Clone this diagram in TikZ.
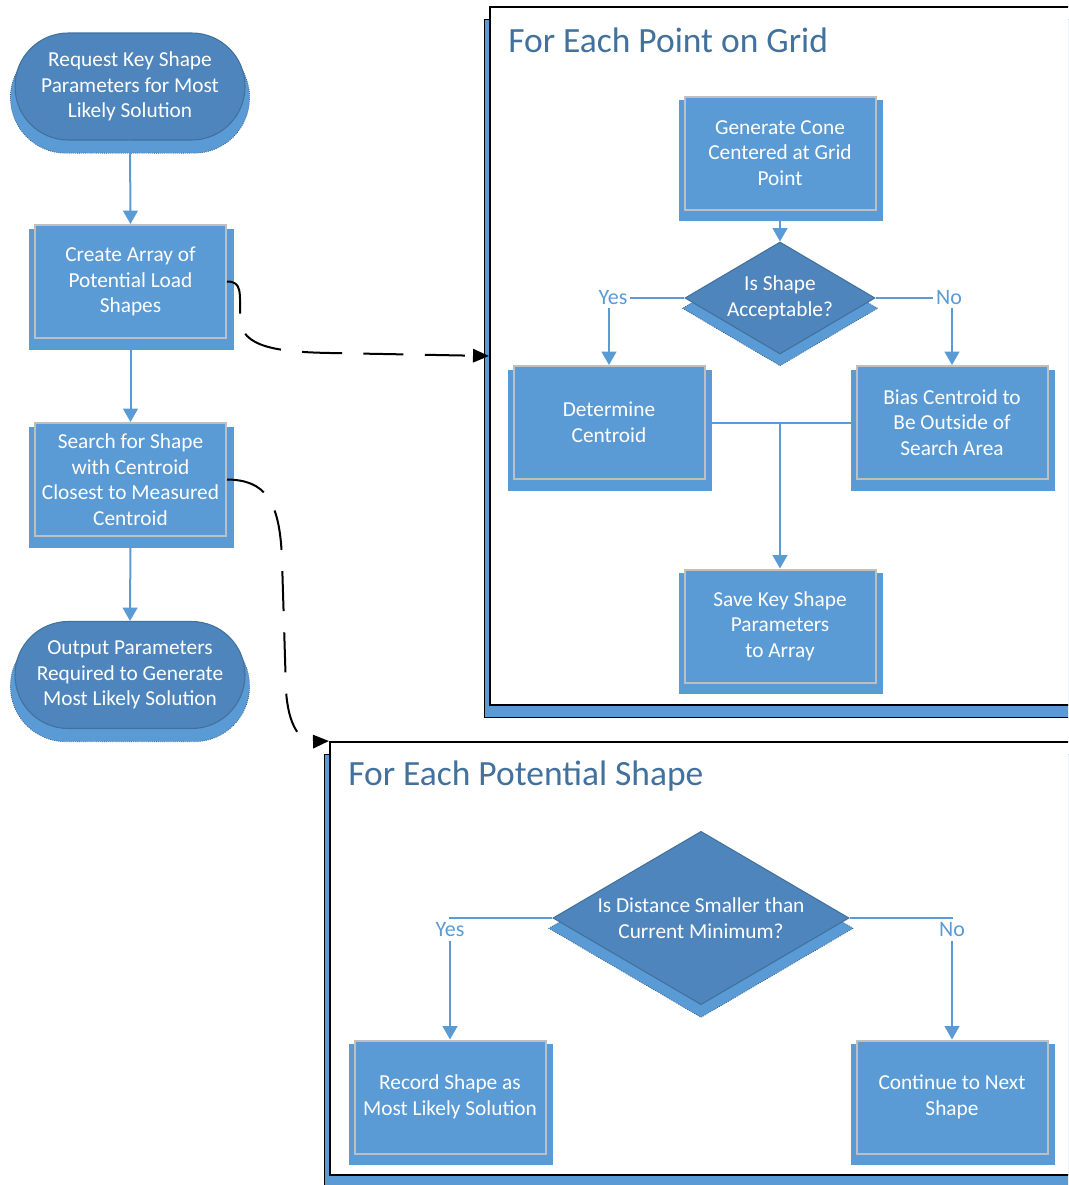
\documentclass[tikz,border=0pt]{standalone}
\usepackage{fontspec}
\setmainfont{Carlito}
\usetikzlibrary{shapes.geometric,shadows,arrows.meta}
\definecolor{lblue}{HTML}{5B9BD5}
\definecolor{dblue}{HTML}{4E85BD}
\definecolor{eblue}{HTML}{41719C}
\definecolor{gborder}{HTML}{BFBFBF}
\begin{document}
\begin{tikzpicture}[x=0.75pt,y=-0.75pt,
  txt/.style={font=\fontsize{16}{19.2}\selectfont, text=white, align=center},
  procbox/.style={txt, rectangle, fill=lblue, draw=gborder, line width=1.5pt,
    minimum width=143.25pt, minimum height=84.75pt, inner sep=0pt,
    general shadow={fill=lblue, shadow scale=1.07, shadow xshift=0.75pt, shadow yshift=-5.5pt}},
  term/.style={txt, rectangle, rounded corners=40pt, fill=dblue, draw=eblue, line width=0.8pt,
    minimum width=172.5pt, minimum height=80.25pt, inner sep=0pt,
    general shadow={fill=lblue, draw=eblue!70!black, line width=0.5pt, densely dotted, shadow scale=1.04, shadow yshift=-8pt}},
  dec/.style={txt, diamond, aspect=1.7, fill=dblue, draw=eblue, line width=0.8pt, inner sep=-4pt,
    general shadow={fill=lblue, draw=eblue!70!black, line width=0.5pt, densely dotted, shadow scale=1.03, shadow yshift=-7.5pt}},
  grpframe/.style={rectangle, fill=white, draw=black, line width=1.5pt,
    general shadow={fill=lblue, draw=black, line width=0.6pt, shadow xshift=-4.5pt, shadow yshift=-9pt}},
  ttl/.style={font=\fontsize{26.6}{30}\selectfont, text=eblue, anchor=west, inner sep=0pt},
  lbl/.style={font=\fontsize{16.5}{19}\selectfont, text=lblue, fill=white, inner sep=2pt},
  conn/.style={draw=lblue, line width=1.5pt, -{Triangle[width=11pt,length=10pt]}},
  connline/.style={draw=lblue, line width=1.5pt},
  dashconn/.style={draw=black, line width=1.5pt, dash pattern=on 30pt off 16pt, -{Triangle[width=10pt,length=12pt]}}
]
\useasboundingbox (0,0) rectangle (1068,1185);
\clip (0,0) rectangle (1068,1185);

% group frames
\node[grpframe, minimum width=438.75pt, minimum height=523.5pt] (f1) at (782.5,356) {};
\node[ttl] (f1t) at (508,40) {For Each Point on Grid};
\node[grpframe, minimum width=558.75pt, minimum height=324.75pt] (f2) at (702.5,958.5) {};
\node[ttl] (f2t) at (348,776) {For Each Potential Shape};

% left column
\node[term] (t1) at (130,86.5) {Request Key Shape\\Parameters for Most\\Likely Solution};
\node[procbox] (b1) at (130.5,281.5) {Create Array of\\Potential Load\\Shapes};
\node[procbox] (b2) at (130.5,479.5) {Search for Shape\\with Centroid\\Closest to Measured\\Centroid};
\node[term] (t2) at (130,675) {Output Parameters\\Required to Generate\\Most Likely Solution};

% frame 1 content
\node[procbox] (gen) at (780,153) {Generate Cone\\Centered at Grid\\Point};
\node[dec, minimum width=142.5pt, minimum height=84pt] (d1) at (780,298) {Is Shape\\Acceptable?};
\node[procbox] (det) at (609,422.5) {Determine\\Centroid};
\node[procbox] (bias) at (952,422.5) {Bias Centroid to\\Be Outside of\\Search Area};
\node[procbox] (save) at (780,626) {Save Key Shape\\Parameters\\to Array};

% frame 2 content
\node[dec, minimum width=222pt, minimum height=130pt] (d2) at (701,918) {Is Distance Smaller than\\Current Minimum?};
\node[procbox] (rec) at (450,1097) {Record Shape as\\Most Likely Solution};
\node[procbox] (cont) at (952,1097) {Continue to Next\\Shape};

% left column connectors
\draw[conn] (t1.south) -- (b1.north);
\draw[conn] (b1.south) -- (b2.north);
\draw[conn] (b2.south) -- (t2.north);

% dashed connectors
\draw[dashconn] (b1.east) .. controls (242,281.5) and (240,292) .. (240,318)
  .. controls (240,348) and (280,352) .. (330,353) -- (f1.west);
\draw[dashconn] (b2.east) .. controls (265,480) and (280,500) .. (282,560) -- (286,690)
  .. controls (288,725) and (300,742) .. (f2.north west);

% frame 1 connectors
\draw[conn] (gen.south) -- (d1.north);
\draw[conn] (d1.west) -| (det.north);
\draw[conn] (d1.east) -| (bias.north);
\draw[connline] (det.east) -- (bias.west);
\draw[conn] (det.east -| save.north) -- (save.north);
\node[lbl] (yes1) at (613,298) {Yes};
\node[lbl] (no1) at (949,298) {No};

% frame 2 connectors
\draw[conn] (d2.west) -| (rec.north);
\draw[conn] (d2.east) -| (cont.north);
\node[lbl, inner sep=3pt] (yes2) at (450,930) {Yes};
\node[lbl, inner sep=3pt] (no2) at (952,930) {No};
\end{tikzpicture}
\end{document}
